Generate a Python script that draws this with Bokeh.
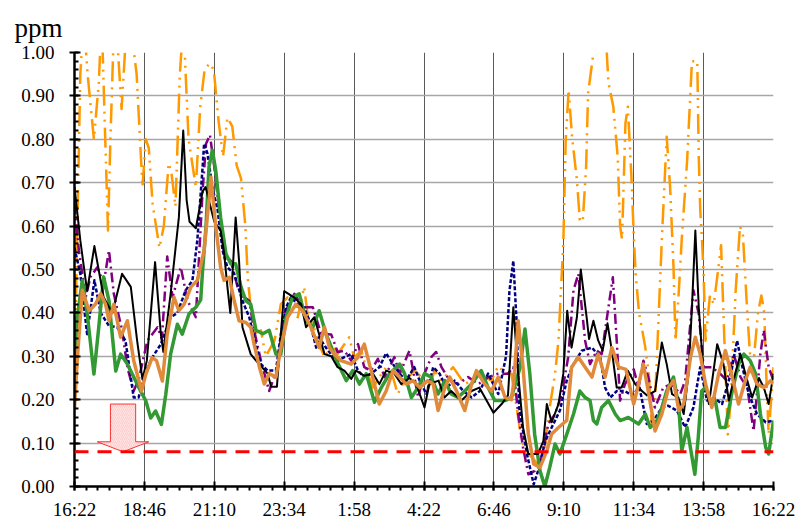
from bokeh.plotting import figure
from bokeh.models import Range1d, FixedTicker, Span, PrintfTickFormatter
from bokeh.embed import file_html
from bokeh.resources import INLINE

# ---- axis data -----------------------------------------------------------
TICK_LABELS = ["16:22", "18:46", "21:10", "23:34", "1:58", "4:22",
               "6:46", "9:10", "11:34", "13:58", "16:22"]
TICK_MINUTES = [0, 144, 288, 432, 576, 720, 864, 1008, 1152, 1296, 1440]
MINOR_MINUTES = list(range(0, 1441, 24))
Y_TICKS = [0.0, 0.1, 0.2, 0.3, 0.4, 0.5, 0.6, 0.7, 0.8, 0.9, 1.0]
Y_MINOR = [i / 50 for i in range(51)]
LIMIT = 0.08
UNIT = "ppm"

# ---- series: (minutes after 16:22, ppm) -----------------------------------
black = [(0,.69),(12,.567),(26,.45),(41,.554),(60,.436),(78,.40),(98,.49),(116,.46),(129,.336),(140,.247),(149,.29),(166,.517),(178,.35),(183,.31),(198,.444),(215,.62),(224,.82),(231,.66),(237,.61),(250,.595),(264,.68),(270,.69),(288,.61),(301,.59),(308,.54),(315,.46),(321,.40),(332,.62),(339,.52),(346,.367),(363,.305),(374,.29),(398,.26),(405,.23),(417,.23),(425,.35),(432,.45),(453,.435),(467,.42),(477,.367),(494,.39),(504,.35),(515,.305),(529,.30),(542,.275),(556,.267),(570,.248),(580,.267),(597,.255),(615,.26),(628,.236),(642,.267),(659,.26),(673,.236),(690,.25),(704,.236),(721,.182),(731,.236),(750,.244),(762,.205),(776,.22),(797,.198),(818,.22),(834,.228),(863,.17),(880,.19),(893,.21),(904,.413),(914,.26),(924,.136),(935,.075),(955,.075),(966,.105),(973,.19),(983,.148),(997,.19),(1007,.26),(1015,.405),(1024,.32),(1035,.39),(1043,.50),(1055,.39),(1060,.34),(1069,.382),(1079,.336),(1088,.313),(1098,.376),(1107,.313),(1117,.228),(1127,.228),(1140,.267),(1155,.236),(1169,.22),(1179,.21),(1196,.22),(1210,.332),(1220,.282),(1231,.213),(1244,.205),(1255,.167),(1265,.26),(1272,.413),(1279,.59),(1286,.413),(1296,.26),(1307,.19),(1324,.328),(1337,.282),(1348,.198),(1361,.26),(1372,.305),(1382,.26),(1396,.205),(1410,.25),(1420,.228),(1430,.19),(1440,.26)]

navy = [(0,.55),(12,.49),(26,.351),(41,.475),(54,.40),(71,.37),(88,.367),(105,.336),(122,.205),(132,.205),(147,.266),(160,.297),(178,.328),(198,.39),(212,.40),(229,.452),(243,.475),(253,.567),(264,.737),(267,.79),(274,.767),(284,.69),(295,.636),(305,.544),(315,.505),(329,.49),(346,.428),(360,.39),(370,.344),(384,.282),(398,.267),(415,.267),(425,.35),(436,.413),(446,.436),(460,.42),(473,.413),(484,.382),(498,.32),(504,.344),(518,.32),(532,.30),(542,.29),(556,.298),(570,.305),(584,.267),(597,.252),(611,.26),(628,.275),(642,.307),(656,.282),(670,.26),(683,.244),(700,.275),(711,.244),(725,.213),(739,.275),(752,.26),(766,.228),(783,.244),(801,.22),(818,.205),(835,.22),(852,.26),(873,.213),(889,.30),(896,.45),(904,.52),(911,.375),(916,.182),(932,.075),(946,.005),(955,.036),(970,.105),(983,.136),(1000,.175),(1014,.244),(1028,.282),(1045,.313),(1066,.32),(1083,.298),(1093,.228),(1104,.205),(1117,.22),(1134,.22),(1148,.21),(1164,.228),(1179,.144),(1193,.152),(1210,.182),(1223,.186),(1241,.175),(1258,.136),(1275,.182),(1289,.275),(1303,.198),(1317,.205),(1334,.19),(1352,.26),(1365,.336),(1376,.275),(1389,.213),(1406,.167),(1424,.148),(1440,.152)]

purple = [(0,.65),(9,.544),(23,.436),(33,.483),(47,.505),(60,.467),(71,.544),(81,.444),(98,.36),(109,.274),(122,.22),(133,.25),(150,.336),(171,.367),(180,.34),(191,.53),(202,.436),(219,.505),(233,.428),(250,.39),(264,.683),(271,.79),(279,.81),(288,.736),(298,.636),(308,.536),(322,.52),(336,.46),(350,.436),(360,.428),(370,.36),(384,.29),(401,.22),(419,.275),(432,.398),(453,.444),(470,.413),(491,.413),(508,.352),(529,.35),(542,.31),(556,.313),(570,.29),(584,.328),(597,.275),(611,.267),(625,.294),(639,.252),(659,.298),(670,.26),(690,.313),(708,.205),(718,.252),(735,.298),(745,.31),(756,.275),(773,.244),(790,.236),(811,.252),(832,.236),(852,.252),(873,.26),(893,.26),(904,.275),(914,.167),(924,.09),(935,.028),(948,.036),(962,.067),(976,.144),(990,.167),(1004,.213),(1017,.298),(1028,.452),(1038,.49),(1052,.336),(1062,.282),(1076,.313),(1086,.305),(1100,.413),(1109,.482),(1117,.336),(1124,.198),(1134,.236),(1152,.27),(1162,.228),(1172,.29),(1182,.252),(1196,.182),(1213,.228),(1230,.236),(1248,.213),(1258,.244),(1275,.452),(1286,.398),(1296,.275),(1313,.275),(1330,.26),(1344,.244),(1358,.305),(1372,.252),(1386,.228),(1399,.128),(1413,.305),(1420,.36),(1430,.275),(1440,.244)]

orange = [(0,.25),(6,.60),(12,.95),(19,1.08),(27,.95),(40,.80),(50,.93),(56,1.08),(62,.85),(69,.59),(74,.80),(81,1.05),(87,1.05),(97,.87),(105,1.02),(116,1.06),(128,.95),(140,.69),(147,.80),(153,.78),(161,.65),(175,.55),(184,.60),(194,.745),(200,.72),(208,.645),(217,.95),(223,1.05),(227,1.0),(235,.80),(250,.69),(259,.875),(268,.96),(278,.975),(287,.96),(297,.84),(306,.76),(315,.85),(325,.83),(334,.74),(343,.71),(352,.60),(357,.48),(363,.413),(370,.352),(384,.36),(394,.30),(412,.336),(425,.42),(439,.436),(449,.398),(460,.39),(473,.46),(481,.39),(491,.375),(501,.336),(515,.298),(532,.328),(542,.305),(566,.344),(576,.298),(591,.313),(604,.26),(615,.228),(628,.252),(642,.275),(656,.252),(666,.213),(680,.244),(701,.267),(714,.252),(728,.22),(742,.267),(756,.244),(780,.275),(794,.252),(804,.236),(818,.244),(832,.26),(845,.252),(859,.244),(873,.278),(887,.26),(900,.26),(911,.182),(921,.105),(935,.075),(948,.06),(959,.044),(969,.09),(979,.182),(990,.26),(997,.336),(1002,.45),(1007,.56),(1012,.80),(1018,.914),(1025,.806),(1035,.706),(1041,.614),(1047,.61),(1054,.737),(1058,.906),(1068,.99),(1077,1.05),(1094,1.05),(1100,.93),(1110,.875),(1119,.76),(1124,.60),(1128,.57),(1135,.837),(1140,.875),(1147,.72),(1152,.583),(1156,.49),(1163,.40),(1176,.32),(1183,.26),(1189,.144),(1196,.198),(1203,.382),(1210,.57),(1220,.806),(1227,.69),(1234,.506),(1238,.336),(1245,.45),(1251,.57),(1262,.75),(1272,.98),(1283,.98),(1286,.76),(1289,.64),(1293,.56),(1296,.49),(1300,.336),(1309,.44),(1317,.42),(1326,.50),(1332,.556),(1340,.30),(1346,.12),(1352,.20),(1362,.45),(1371,.60),(1377,.58),(1386,.40),(1392,.30),(1400,.30),(1408,.40),(1415,.44),(1421,.40),(1425,.26),(1430,.12),(1440,.275)]

green = [(0,.27),(6,.39),(16,.475),(26,.40),(40,.259),(50,.367),(60,.483),(71,.428),(85,.266),(95,.305),(109,.282),(129,.236),(147,.197),(157,.158),(167,.174),(179,.143),(188,.212),(198,.305),(212,.374),(222,.351),(236,.398),(250,.413),(260,.43),(264,.50),(271,.60),(277,.736),(284,.775),(291,.728),(301,.62),(312,.536),(322,.513),(332,.513),(343,.46),(353,.428),(363,.42),(374,.36),(388,.352),(401,.36),(415,.305),(425,.305),(436,.39),(449,.436),(463,.444),(477,.382),(491,.367),(504,.405),(518,.352),(532,.313),(542,.285),(560,.244),(573,.267),(587,.236),(601,.26),(618,.194),(632,.228),(649,.26),(670,.282),(680,.26),(694,.205),(708,.228),(721,.26),(735,.252),(749,.213),(763,.244),(776,.213),(790,.205),(804,.22),(818,.236),(838,.267),(852,.228),(866,.198),(887,.198),(900,.205),(918,.275),(928,.363),(938,.26),(948,.12),(959,.036),(969,.0),(979,.044),(990,.098),(1000,.075),(1014,.12),(1028,.167),(1041,.22),(1052,.205),(1062,.198),(1069,.152),(1076,.144),(1086,.182),(1100,.198),(1114,.167),(1124,.152),(1141,.159),(1162,.144),(1176,.167),(1186,.136),(1200,.152),(1210,.182),(1220,.22),(1234,.252),(1245,.182),(1251,.082),(1262,.136),(1271,.075),(1278,.028),(1285,.113),(1292,.22),(1300,.228),(1310,.198),(1320,.198),(1330,.136),(1341,.136),(1355,.22),(1368,.282),(1379,.305),(1392,.29),(1403,.26),(1413,.167),(1424,.09),(1430,.075),(1440,.152)]

brown = [(0,.18),(6,.297),(16,.452),(30,.405),(43,.42),(54,.444),(64,.42),(71,.382),(81,.42),(95,.344),(109,.382),(122,.29),(138,.22),(147,.259),(160,.297),(169,.29),(181,.243),(191,.351),(205,.436),(215,.405),(226,.42),(240,.46),(253,.475),(267,.544),(277,.66),(281,.713),(291,.60),(301,.505),(308,.475),(319,.482),(329,.428),(339,.382),(353,.378),(363,.367),(370,.328),(381,.275),(391,.236),(401,.26),(415,.252),(425,.32),(439,.39),(456,.42),(470,.405),(487,.367),(504,.32),(515,.367),(525,.32),(535,.305),(549,.29),(570,.282),(584,.298),(597,.328),(611,.267),(628,.19),(642,.22),(656,.267),(670,.252),(683,.236),(697,.244),(711,.228),(728,.244),(739,.236),(749,.175),(763,.228),(773,.252),(787,.22),(804,.175),(818,.236),(828,.267),(845,.236),(859,.22),(873,.252),(887,.205),(900,.20),(905,.24),(914,.382),(924,.275),(935,.121),(946,.052),(959,.044),(973,.082),(983,.121),(997,.136),(1014,.152),(1024,.275),(1038,.298),(1052,.275),(1066,.252),(1079,.305),(1093,.252),(1107,.32),(1121,.275),(1136,.27),(1152,.19),(1172,.282),(1183,.213),(1196,.128),(1210,.167),(1224,.228),(1234,.244),(1245,.175),(1255,.19),(1269,.298),(1279,.344),(1289,.305),(1300,.236),(1313,.182),(1327,.26),(1341,.313),(1355,.252),(1368,.19),(1382,.244),(1392,.275),(1406,.236),(1420,.228),(1434,.244),(1440,.236)]

# arrow annotation (data units)
ARROW_X = 100          # minutes
ARROW_TOP = 0.19
ARROW_NECK = 0.103
ARROW_TIP = LIMIT
ARROW_SHAFT_HALF = 26  # minutes
ARROW_HEAD_HALF = 53   # minutes

FONT = "Liberation Serif, serif"

p = figure(width=797, height=522, output_backend="svg", toolbar_location=None,
           x_range=Range1d(0, 1440), y_range=Range1d(0, 1),
           min_border_left=74, min_border_right=24, min_border_top=52,
           min_border_bottom=35)
p.outline_line_color = None
p.background_fill_color = "white"
p.border_fill_color = "white"

# unit "ppm" above the y axis, as the title
p.title.text = UNIT
p.title.text_font = FONT
p.title.text_font_size = "27px"
p.title.text_font_style = "normal"
p.title.text_color = "black"
p.title.align = "left"
p.title.offset = -60
p.title.standoff = 19

xt = FixedTicker(ticks=TICK_MINUTES, minor_ticks=MINOR_MINUTES)
yt = FixedTicker(ticks=Y_TICKS, minor_ticks=Y_MINOR)
xaxis = p.xaxis[0]
yaxis = p.yaxis[0]
xaxis.ticker = xt
yaxis.ticker = yt
p.xgrid[0].ticker = xt
p.ygrid[0].ticker = yt
xaxis.major_label_overrides = {t: lab for t, lab in zip(TICK_MINUTES, TICK_LABELS)}
yaxis.formatter = PrintfTickFormatter(format="%.2f")

for ax in (xaxis, yaxis):
    ax.axis_line_color = "black"
    ax.axis_line_width = 2.5
    ax.major_tick_line_color = "black"
    ax.minor_tick_line_color = "black"
    ax.major_tick_line_width = 2
    ax.minor_tick_line_width = 2
    ax.major_label_text_font = FONT
    ax.major_label_text_font_size = "19px"
    ax.major_label_text_font_style = "normal"
    ax.major_label_text_color = "black"

yaxis.major_tick_in = 6
yaxis.major_tick_out = 5
yaxis.minor_tick_in = 4
yaxis.minor_tick_out = 0
yaxis.major_label_standoff = 15

xaxis.major_tick_in = 5
xaxis.major_tick_out = 4
xaxis.minor_tick_in = 0
xaxis.minor_tick_out = 4
xaxis.major_label_standoff = 8

p.xgrid.grid_line_color = "#5A5A5A"
p.xgrid.grid_line_width = 1
p.ygrid.grid_line_color = "#A6A6A6"
p.ygrid.grid_line_width = 1.5


def xy(series):
    return [t for t, _ in series], [v for _, v in series]


styles = [
    (orange, dict(line_color="#FF9900", line_width=2.5, line_dash="20 6 2 6 2 6")),
    (purple, dict(line_color="#800080", line_width=2.5, line_dash="10 4 2 4")),
    (navy, dict(line_color="#000080", line_width=2.5, line_dash="4 2")),
    (green, dict(line_color="#339933", line_width=3.5)),
    (black, dict(line_color="#000000", line_width=2)),
    (brown, dict(line_color="#E08A3C", line_width=3.5)),
]
for s, kw in styles:
    xs, ys = xy(s)
    p.line(xs, ys, line_join="round", **kw)

p.add_layout(Span(location=LIMIT, dimension="width", line_color="#FF0000",
                  line_width=3, line_dash="14 9"))

ax_ = [ARROW_X - ARROW_SHAFT_HALF, ARROW_X + ARROW_SHAFT_HALF, ARROW_X + ARROW_SHAFT_HALF,
       ARROW_X + ARROW_HEAD_HALF, ARROW_X, ARROW_X - ARROW_HEAD_HALF, ARROW_X - ARROW_SHAFT_HALF]
ay_ = [ARROW_TOP, ARROW_TOP, ARROW_NECK, ARROW_NECK, ARROW_TIP, ARROW_NECK, ARROW_NECK]
p.patch(ax_, ay_, fill_color="#FFE4E4", line_color="#FF3030", line_width=1,
        hatch_pattern="right_diagonal_line", hatch_color="#FFCACA",
        hatch_scale=4, hatch_weight=1)

open("out.html", "w").write(file_html(p, INLINE))
